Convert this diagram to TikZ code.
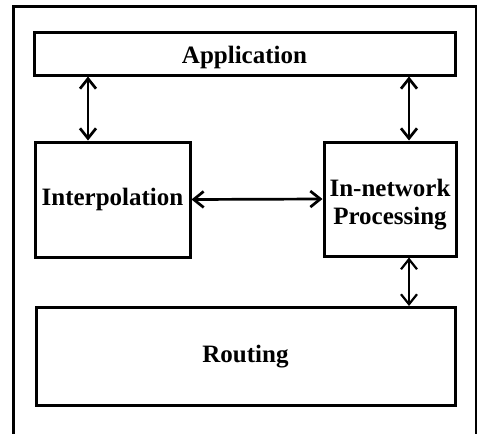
\documentclass[tikz,border=0pt]{standalone}
\usepackage{fontspec}
\setmainfont{Liberation Serif}
\usetikzlibrary{arrows.meta,calc}

\begin{document}
\begin{tikzpicture}[x=1pt,y=-1pt,
	layer/.style={draw, line width=3pt, inner sep=1pt, align=center, font=\fontsize{25}{28}\selectfont\bfseries},
	link/.style={{Straight Barb[length=10pt,width=16pt]}-{Straight Barb[length=10pt,width=16pt]}, line width=2.7pt}]
	\useasboundingbox (0,0) rectangle (477,434);
	\draw[line width=3pt] (13,434) -- (13,6) -- (476,6) -- (476,434);
	
	\node[layer, minimum width=421pt, minimum height=43pt, text height=25pt] (0) at (244.5,53.5) {Application};
	\node[layer, minimum width=155pt, minimum height=115pt] (1) at (112.5,199.5) {Interpolation};
	\node[layer, minimum width=132pt, minimum height=114pt, text height=57pt] (2) at (390,199) {In-network\\Processing};
	
	\node[layer, minimum width=419pt, minimum height=98pt] (3) at (245.5,356.5) {Routing};
	
	\draw[link] ([xshift=-24.5pt]1.north) -- ([xshift=-24.5pt]1.north |- 0.south);
	\draw[link] ([xshift=19pt]2.north) -- ([xshift=19pt]2.north |- 0.south);
	\draw[link] (1.east) -- (2.west);
	\draw[link, line width=2.2pt] ([xshift=19pt]2.south) -- ([xshift=19pt]2.south |- 3.north);
\end{tikzpicture}
\end{document}
